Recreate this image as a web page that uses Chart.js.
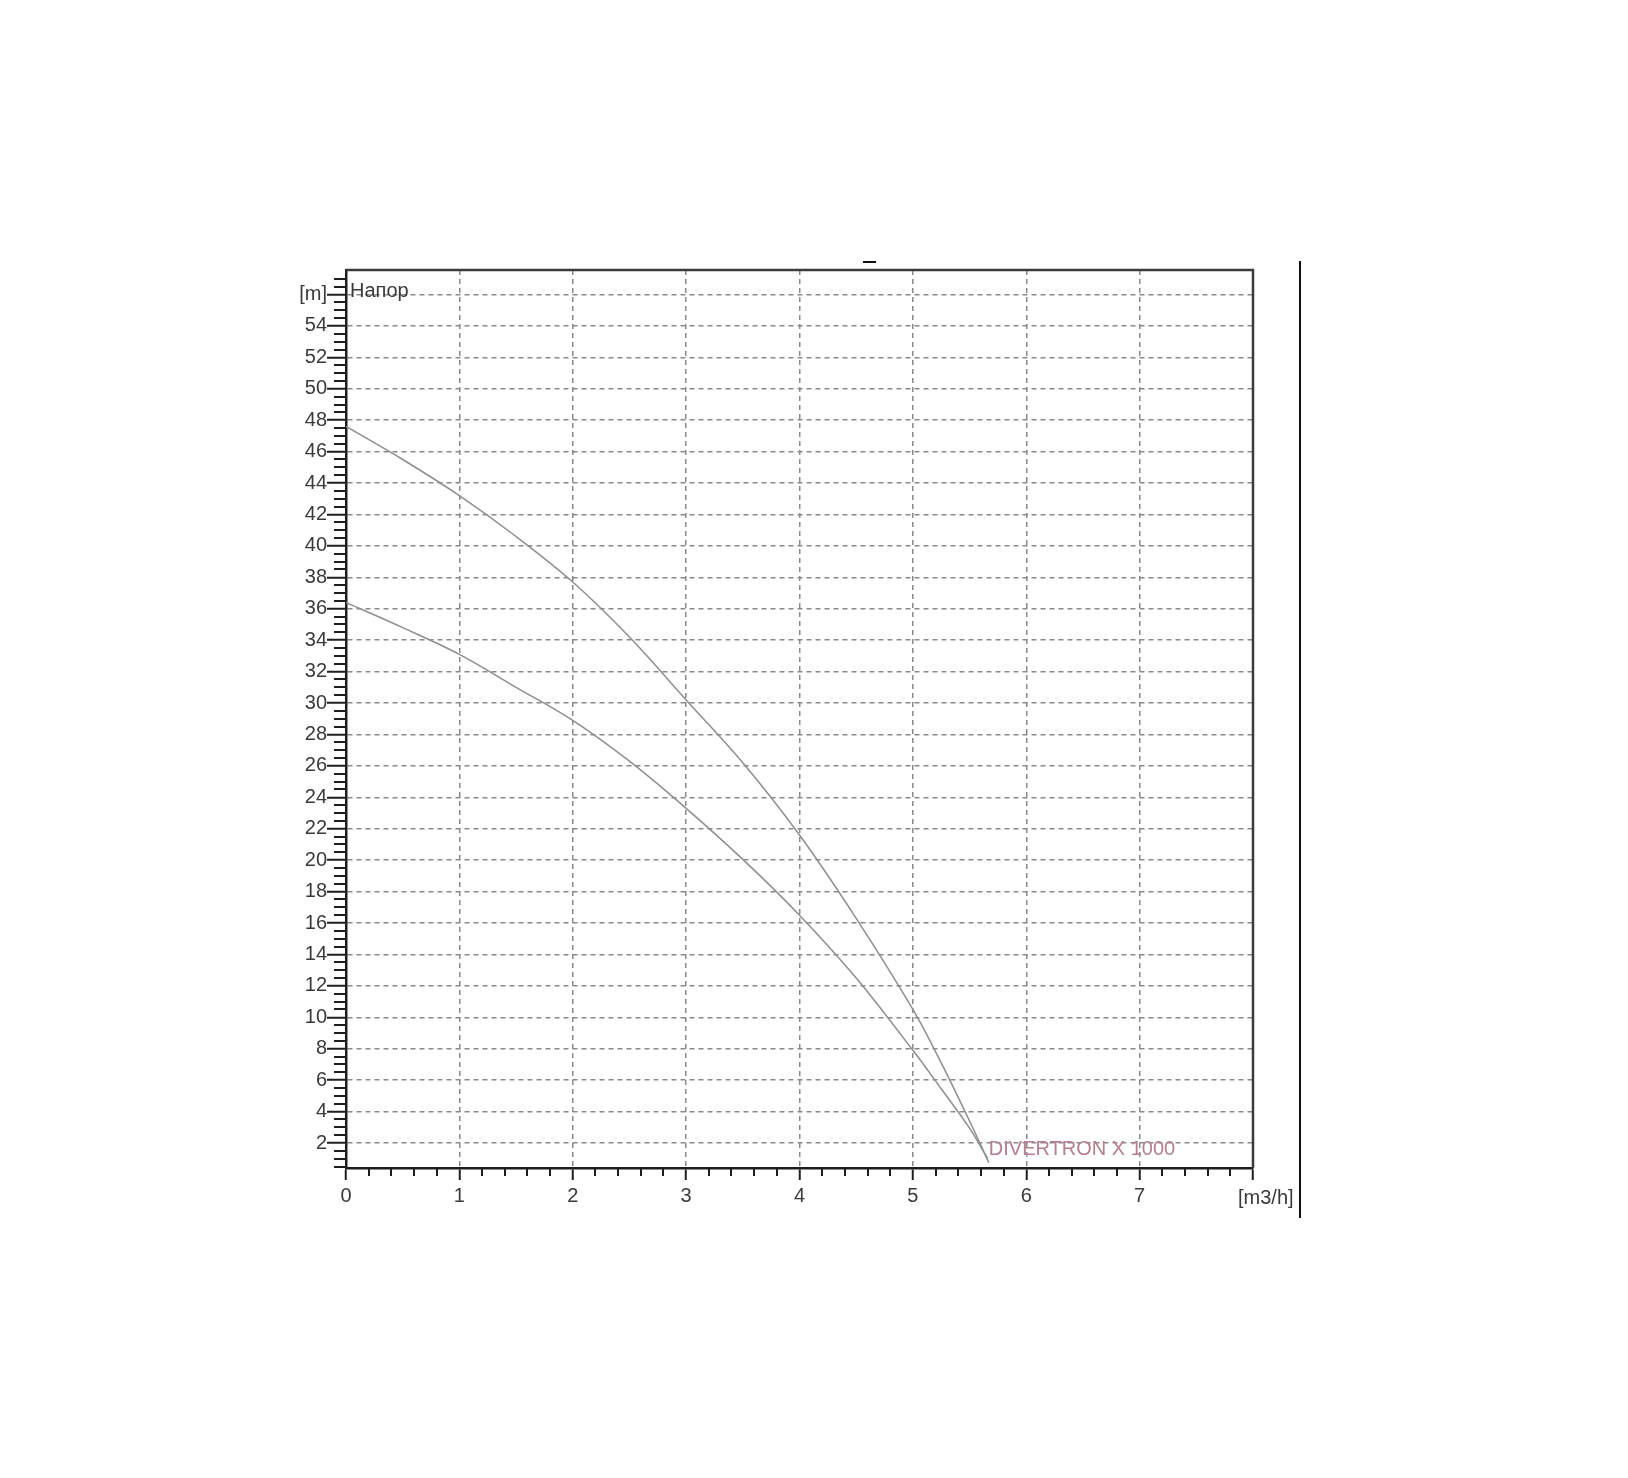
<!DOCTYPE html>
<html>
<head>
<meta charset="utf-8">
<script src="https://cdn.jsdelivr.net/npm/chart.js@4/dist/chart.umd.min.js"></script>
<style>
  html, body { margin: 0; padding: 0; background: #fff; }
  #wrap { width: 1628px; height: 1478px; }
</style>
</head>
<body>
<div id="wrap"><canvas id="pumpChart"></canvas></div>
<script>
// flow [m3/h] and head [m]
const flowUpper = [0, 0.5, 1, 1.5, 2, 2.5, 3, 3.5, 4, 4.5, 5, 5.25, 5.5, 5.67];
const headUpper = [47.6, 45.5, 43.2, 40.6, 37.7, 34.2, 30.2, 26.2, 21.6, 16.3, 10.5, 7.1, 3.4, 0.75];
const flowLower = [0, 0.5, 1, 1.5, 2, 2.5, 3, 3.5, 4, 4.5, 5, 5.25, 5.5, 5.66];
const headLower = [36.4, 34.8, 33.1, 31.0, 28.9, 26.3, 23.3, 20.05, 16.5, 12.5, 7.9, 5.45, 2.95, 1.0];

const xTicks = [0, 1, 2, 3, 4, 5, 6, 7, 8];
const yTicks = [2, 4, 6, 8, 10, 12, 14, 16, 18, 20, 22, 24, 26, 28, 30, 32, 34, 36, 38, 40, 42, 44, 46, 48, 50, 52, 54, 56];
const yTopLabel = '[m]';
const xEndLabel = '[m3/h]';
const headTitle = 'Напор';
const modelName = 'DIVERTRON X 1000';

const FONT = '"Liberation Sans", Arial, sans-serif';
const TEXT = '#3a3a3a';
const AXIS = '#1e1e1e';

// minor ticks, frame, curve label and the stray marks of the scan
const decorations = {
    id: 'decorations',
    afterDraw(chart) {
        const { ctx, chartArea: a, scales: { x, y } } = chart;
        ctx.save();
        ctx.strokeStyle = AXIS;
        ctx.lineWidth = 2;

        // minor ticks
        ctx.beginPath();
        for (let v = 0.2; v < 8; v += 0.2) {
            if (Math.abs(v - Math.round(v)) < 0.01) continue;
            const px = Math.round(x.getPixelForValue(v));
            ctx.moveTo(px, a.bottom);
            ctx.lineTo(px, a.bottom + 8);
        }
        for (let v = 0.5; v < 57.5; v += 0.5) {
            if (v % 2 === 0) continue;
            const py = Math.round(y.getPixelForValue(v));
            ctx.moveTo(a.left, py);
            ctx.lineTo(a.left - 12, py);
        }
        ctx.stroke();

        // top and right frame
        ctx.strokeStyle = '#3c3c3c';
        ctx.lineWidth = 2.5;
        ctx.beginPath();
        ctx.moveTo(a.left, a.top);
        ctx.lineTo(a.right, a.top);
        ctx.lineTo(a.right, a.bottom);
        ctx.stroke();

        // stray scan marks
        ctx.strokeStyle = '#111';
        ctx.lineWidth = 2;
        ctx.beginPath();
        ctx.moveTo(a.right + 47, a.top - 9);
        ctx.lineTo(a.right + 47, a.bottom + 50);
        ctx.stroke();
        ctx.beginPath();
        ctx.moveTo(863, a.top - 8);
        ctx.lineTo(876, a.top - 8);
        ctx.stroke();

        // texts
        ctx.font = '20px ' + FONT;
        ctx.fillStyle = TEXT;
        ctx.textBaseline = 'middle';
        ctx.textAlign = 'left';
        ctx.fillText(headTitle, a.left + 4, y.getPixelForValue(56) - 3);
        ctx.fillText(xEndLabel, a.right - 15, a.bottom + 30);

        ctx.fillStyle = '#b5808e';
        const n = flowUpper.length - 1;
        ctx.fillText(modelName, x.getPixelForValue(flowUpper[n]), y.getPixelForValue(1.6));
        ctx.restore();
    }
};

const ctx = document.getElementById('pumpChart').getContext('2d');

new Chart(ctx, {
    type: 'line',
    data: {
        datasets: [
            {
                label: 'upper',
                data: flowUpper.map((f, i) => ({ x: f, y: headUpper[i] })),
                borderColor: '#8e8e8e',
                borderWidth: 1.5,
                pointRadius: 0,
                tension: 0.35,
            },
            {
                label: 'lower',
                data: flowLower.map((f, i) => ({ x: f, y: headLower[i] })),
                borderColor: '#8e8e8e',
                borderWidth: 1.5,
                pointRadius: 0,
                tension: 0.35,
            },
        ],
    },
    options: {
        responsive: true,
        maintainAspectRatio: false,
        animation: false,
        layout: {
            padding: { left: 246, top: 270, right: 375, bottom: 250 },
        },
        scales: {
            x: {
                type: 'linear',
                min: 0,
                max: 8,
                afterBuildTicks: (s) => { s.ticks = xTicks.map((v) => ({ value: v })); },
                afterFit: (s) => { s.height = 60; },
                grid: {
                    color: (c) => (c.tick && (c.tick.value === 0 || c.tick.value === 8) ? 'rgba(0,0,0,0)' : '#8a8a8a'),
                    lineWidth: 1.5,
                    tickColor: AXIS,
                    tickLength: 12,
                    tickWidth: 2,
                },
                border: { color: AXIS, width: 2.5, dash: [5, 4] },
                ticks: {
                    color: TEXT,
                    font: { size: 20, family: FONT },
                    padding: 4,
                    maxRotation: 0,
                    callback: (v) => (v === 8 ? '' : String(v)),
                },
            },
            y: {
                type: 'linear',
                min: 0.41,
                max: 57.56,
                afterBuildTicks: (s) => { s.ticks = yTicks.map((v) => ({ value: v })); },
                afterFit: (s) => { s.width = 100; },
                grid: {
                    color: '#8a8a8a',
                    lineWidth: 1.5,
                    tickColor: AXIS,
                    tickLength: 19,
                    tickWidth: 2,
                },
                border: { color: AXIS, width: 2.5, dash: [5, 4] },
                ticks: {
                    color: TEXT,
                    font: { size: 20, family: FONT },
                    padding: 0,
                    callback: (v) => (v === 56 ? yTopLabel : String(v)),
                },
            },
        },
        plugins: {
            legend: { display: false },
            tooltip: { enabled: false },
        },
    },
    plugins: [decorations],
});
</script>
</body>
</html>
